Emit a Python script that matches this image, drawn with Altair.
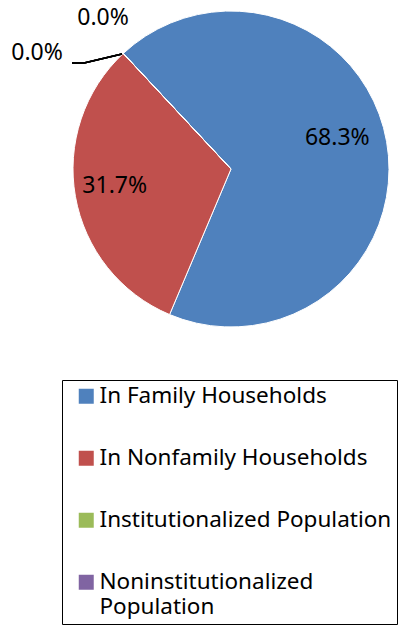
import math
import altair as alt
import pandas as pd

categories = ["In Family Households", "In Nonfamily Households",
              "Institutionalized Population", "Noninstitutionalized Population"]
values = [68.3, 31.7, 0.0, 0.0]
labels = ["68.3%", "31.7%", "0.0%", "0.0%"]
colors = ["#4F81BD", "#C0504D", "#9BBB59", "#8064A2"]

df = pd.DataFrame({"category": categories, "value": values,
                   "label": labels, "idx": list(range(len(categories)))})

start = -43 * math.pi / 180
theta_scale = alt.Scale(domain=[0, 100], range=[start, start + 2 * math.pi])
FONT = "Noto Sans"

pie = alt.Chart(df).mark_arc(outerRadius=158, stroke="white", strokeWidth=1).encode(
    theta=alt.Theta("value:Q", stack=True, scale=theta_scale),
    order=alt.Order("idx:Q"),
    x=alt.value(231),
    y=alt.value(169),
    color=alt.Color(
        "category:N",
        sort=categories,
        scale=alt.Scale(domain=categories, range=colors),
        legend=alt.Legend(
            title=None, orient="none", legendX=62, legendY=380,
            direction="vertical", columns=1,
            strokeColor="black", padding=5, symbolOffset=8,
            symbolType="square", symbolSize=225, symbolStrokeWidth=0,
            labelFont=FONT, labelFontSize=22.5, labelColor="black",
            labelLimit=400, labelOffset=2, rowPadding=39,
            labelExpr="datum.label == 'Noninstitutionalized Population' ? ['Noninstitutionalized', 'Population'] : datum.label",
        ),
    ),
)

text_base = (
    alt.Chart(df)
    .transform_stack(stack="value", groupby=[], as_=["v0", "v1"],
                     sort=[alt.SortField("idx", order="ascending")])
    .transform_calculate(mid="(datum.v0 + datum.v1) / 2")
    .encode(
        theta=alt.Theta("mid:Q", stack=None, scale=theta_scale),
        x=alt.value(231),
        y=alt.value(169),
        text="label:N",
    )
)

# per-label placement offsets (layout only)
specs = [(0, 112, -4, -11), (1, 112, -6, -3), (2, 170, -12, -27), (3, 170, -78, 8)]
text_layers = []
for i, r, ddx, ddy in specs:
    text_layers.append(
        text_base.mark_text(radius=r, dx=ddx, dy=ddy, font=FONT, fontSize=23,
                            color="black", align="center", baseline="middle")
        .transform_filter(alt.datum.idx == i)
    )

leader1 = alt.Chart(df).mark_rule(color="black", strokeWidth=1.5).encode(
    x=alt.value(72), x2=alt.value(84), y=alt.value(63), y2=alt.value(63))
leader2 = alt.Chart(df).mark_rule(color="black", strokeWidth=1.5).encode(
    x=alt.value(84), x2=alt.value(122), y=alt.value(63), y2=alt.value(54))

chart = alt.layer(pie, *text_layers, leader1, leader2).properties(
    width=401, height=628, padding=0, background="white"
).configure_view(stroke=None)

chart.save("out.html", embed_options={"renderer": "svg", "actions": False})
